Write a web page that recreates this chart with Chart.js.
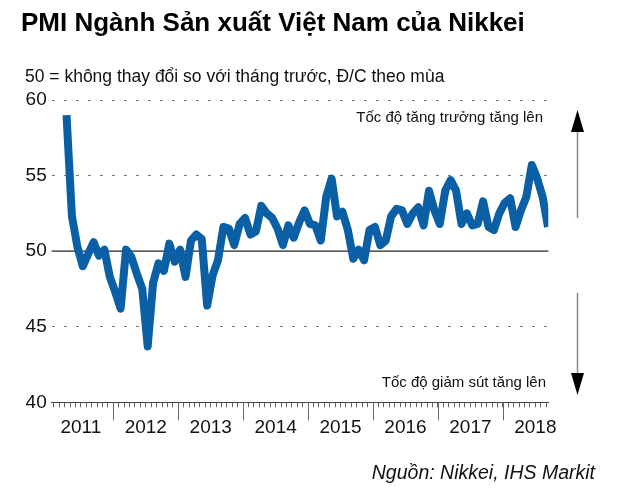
<!DOCTYPE html>
<html>
<head>
<meta charset="utf-8">
<script src="https://cdn.jsdelivr.net/npm/chart.js@4/dist/chart.umd.min.js"></script>
<style>
  body { margin: 0; background: #fff; }
  #c { display: block; }
</style>
</head>
<body>
<canvas id="c" width="630" height="488"></canvas>
<script>
// PMI monthly values, April 2011 .. September 2018
var firstMonth = 3;      // months after Jan 2011 of the first value
var monthShift = 0.35;   // points sit a little into their month on the axis
var pmi2011 = [59.0, 52.3, 50.3, 49.0, 49.8, 50.6, 49.7, 50.1, 48.3];
var pmi2012 = [47.3, 46.2, 50.1, 49.6, 48.5, 47.5, 43.7, 47.9, 49.2, 48.7, 50.5, 49.3];
var pmi2013 = [50.1, 48.3, 50.7, 51.1, 50.8, 46.4, 48.4, 49.4, 51.6, 51.5, 50.4, 51.8];
var pmi2014 = [52.2, 51.1, 51.3, 53.0, 52.5, 52.2, 51.5, 50.4, 51.7, 50.9, 51.9, 52.7];
var pmi2015 = [51.8, 51.7, 50.7, 53.6, 54.8, 52.3, 52.6, 51.4, 49.5, 50.1, 49.4, 51.4];
var pmi2016 = [51.6, 50.4, 50.7, 52.3, 52.8, 52.7, 51.8, 52.5, 52.9, 51.7, 54.0, 52.7];
var pmi2017 = [51.8, 54.0, 54.7, 54.0, 51.8, 52.5, 51.7, 51.8, 53.3, 51.6, 51.4, 52.5];
var pmi2018 = [53.2, 53.5, 51.6, 52.7, 53.6, 55.7, 54.8, 53.6, 51.6];

var years = ['2011', '2012', '2013', '2014', '2015', '2016', '2017', '2018'];
var yTicks = [40, 45, 50, 55, 60];

var titleText = 'PMI Ngành Sản xuất Việt Nam của Nikkei';
var subText = '50 = không thay đổi so với tháng trước, Đ/C theo mùa';
var upText = 'Tốc độ tăng trưởng tăng lên';
var downText = 'Tốc độ giảm sút tăng lên';
var sourceText = 'Nguồn: Nikkei, IHS Markit';

var FONT = '"Liberation Sans", Arial, sans-serif';

var allPmi = [].concat(pmi2011, pmi2012, pmi2013, pmi2014, pmi2015, pmi2016, pmi2017, pmi2018);
var points = allPmi.map(function (v, i) { return { x: firstMonth + i + monthShift, y: v }; });

function arrow(ctx, x, y0, y1, tipY, dir) {
  ctx.strokeStyle = '#888';
  ctx.lineWidth = 1.5;
  ctx.beginPath(); ctx.moveTo(x, y0); ctx.lineTo(x, y1); ctx.stroke();
  ctx.fillStyle = '#000';
  ctx.beginPath();
  ctx.moveTo(x, tipY);
  ctx.lineTo(x - 6.5, tipY + dir * 22);
  ctx.lineTo(x + 6.5, tipY + dir * 22);
  ctx.closePath(); ctx.fill();
}

var decor = {
  id: 'decor',
  beforeDatasetsDraw: function (chart) {
    var ctx = chart.ctx, a = chart.chartArea;
    var y50 = chart.scales.y.getPixelForValue(50);
    ctx.save();
    ctx.strokeStyle = '#222';
    ctx.lineWidth = 1.2;
    ctx.beginPath(); ctx.moveTo(a.left, y50); ctx.lineTo(a.right, y50); ctx.stroke();
    ctx.restore();
  },
  afterDraw: function (chart) {
    var ctx = chart.ctx, a = chart.chartArea, x = chart.scales.x;
    ctx.save();
    // long ticks between years
    ctx.strokeStyle = '#666';
    ctx.lineWidth = 1;
    for (var m = 12; m < x.max; m += 12) {
      var px = Math.round(x.getPixelForValue(m)) + 0.5;
      ctx.beginPath(); ctx.moveTo(px, a.bottom); ctx.lineTo(px, a.bottom + 18); ctx.stroke();
    }
    ctx.fillStyle = '#000';
    ctx.textBaseline = 'alphabetic';
    ctx.textAlign = 'left';
    ctx.font = 'bold 26px ' + FONT;
    ctx.fillText(titleText, 21, 31);
    ctx.font = '17.5px ' + FONT;
    ctx.fillStyle = '#111';
    ctx.fillText(subText, 25, 82);
    ctx.textAlign = 'right';
    ctx.font = '15px ' + FONT;
    ctx.fillText(upText, 543, 122);
    ctx.fillText(downText, 546, 387);
    ctx.font = 'italic 19.5px ' + FONT;
    ctx.fillText(sourceText, 595, 479);
    arrow(ctx, 577.5, 130, 218, 110, 1);
    arrow(ctx, 577.5, 293, 375, 395, -1);
    ctx.restore();
  }
};

var ctx = document.getElementById('c').getContext('2d');
var chart = new Chart(ctx, {
  type: 'line',
  data: {
    datasets: [{
      data: points,
      borderColor: '#0b5fa5',
      borderWidth: 8,
      borderJoinStyle: 'round',
      borderCapStyle: 'butt',
      pointRadius: 0,
      tension: 0,
      fill: false
    }]
  },
  options: {
    responsive: false,
    animation: false,
    layout: { padding: { left: 21.7, top: 100, right: 81.7, bottom: 45.7 } },
    plugins: { legend: { display: false }, tooltip: { enabled: false } },
    scales: {
      x: {
        type: 'linear',
        min: 0.61,
        max: 92.4,
        afterBuildTicks: function (scale) {
          var t = [];
          for (var m = 1; m <= 92; m++) t.push({ value: m });
          scale.ticks = t;
        },
        afterFit: function (scale) { scale.height = 40; },
        ticks: {
          autoSkip: false,
          maxRotation: 0,
          minRotation: 0,
          padding: 9,
          color: '#111',
          font: { family: FONT, size: 19 },
          callback: function (v) { return v % 12 === 6 ? years[(v - 6) / 12] : ''; }
        },
        grid: { drawOnChartArea: false, drawTicks: true, tickLength: 5, color: '#666', lineWidth: 1 },
        border: { display: true, color: '#444', width: 1 }
      },
      y: {
        min: 40,
        max: 60,
        afterBuildTicks: function (scale) {
          scale.ticks = yTicks.map(function (v) { return { value: v }; });
        },
        afterFit: function (scale) { scale.width = 30; },
        ticks: { padding: 5, color: '#111', font: { family: FONT, size: 19 } },
        grid: {
          drawTicks: false,
          lineWidth: 1,
          color: function (c) {
            var v = c.tick ? c.tick.value : null;
            return (v === 45 || v === 55 || v === 60) ? '#777' : 'rgba(0,0,0,0)';
          }
        },
        border: { display: false, dash: [3, 9] }
      }
    }
  },
  plugins: [decor]
});
</script>
</body>
</html>
